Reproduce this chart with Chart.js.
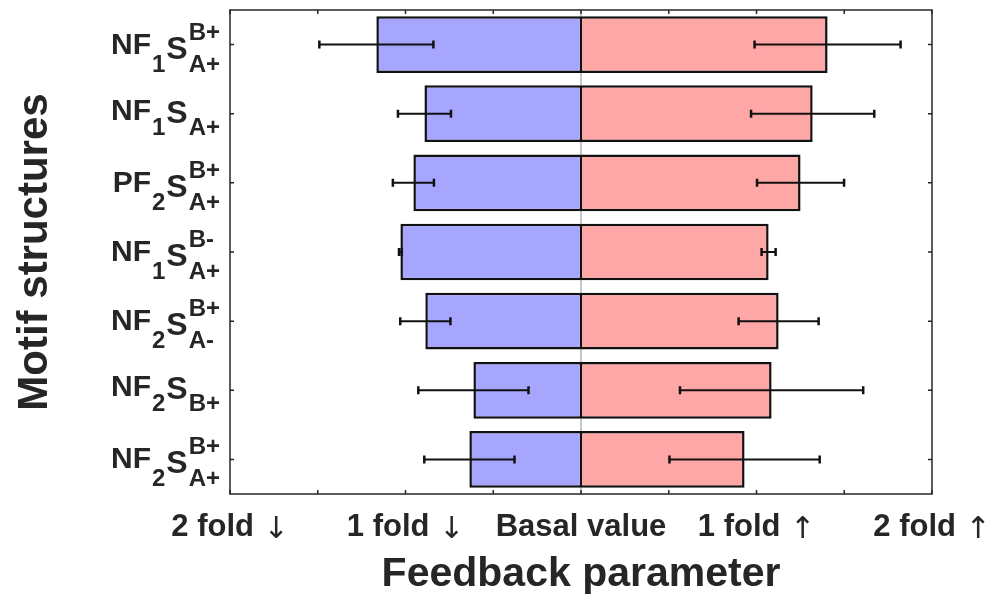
<!DOCTYPE html>
<html lang="en">
<head>
  <meta charset="UTF-8" />
  <title>Feedback parameter by motif structure</title>
  <script src="https://cdn.jsdelivr.net/npm/chart.js"></script>
  <style>
    html, body { margin: 0; padding: 0; background: #fff; }
    canvas { display: block; }
  </style>
</head>
<body>
  <canvas id="grafico" width="990" height="594"></canvas>

  <script>
    // motif labels, split in pieces: head + index, S, superscript, subscript
    const motifHead  = ['NF', 'NF', 'PF', 'NF', 'NF', 'NF', 'NF'];
    const motifIndex = ['1', '1', '2', '1', '2', '2', '2'];
    const motifSup   = ['B+', '', 'B+', 'B-', 'B+', '', 'B+'];
    const motifSub   = ['A+', 'A+', 'A+', 'A+', 'A-', 'B+', 'A+'];

    // fold change (down = blue, up = red) and error half-widths
    const downValues = [-1.166, -0.892, -0.955, -1.029, -0.887, -0.613, -0.636];
    const downErrors = [0.325, 0.151, 0.117, 0.008, 0.143, 0.314, 0.257];
    const upValues   = [1.405, 1.320, 1.251, 1.069, 1.126, 1.086, 0.932];
    const upErrors   = [0.416, 0.351, 0.248, 0.040, 0.228, 0.522, 0.428];

    const xTickValues = [-2, -1, 0, 1, 2];
    const xTickLabels = ['2 fold', '1 fold', 'Basal value', '1 fold', '2 fold'];
    const xTickArrows = ['↓', '↓', '', '↑', '↑'];

    const ink = '#262626';
    const bold = px => `bold ${px}px "Liberation Sans", Arial, sans-serif`;

    const decor = {
      id: 'decor',
      beforeDatasetsDraw(chart) {
        const { ctx, chartArea: a, scales: { x } } = chart;
        const x0 = x.getPixelForValue(0);
        ctx.save();
        ctx.strokeStyle = '#b4b4b4';
        ctx.lineWidth = 1.5;
        ctx.beginPath();
        ctx.moveTo(x0, a.top);
        ctx.lineTo(x0, a.bottom);
        ctx.stroke();
        ctx.restore();
      },
      afterDatasetsDraw(chart) {
        const { ctx, chartArea: a, scales: { x, y } } = chart;
        const sets = [[downValues, downErrors], [upValues, upErrors]];

        ctx.save();
        ctx.strokeStyle = '#111';
        sets.forEach(([vals, errs], i) => {
          chart.getDatasetMeta(i).data.forEach((bar, j) => {
            const yy = bar.y;
            const xl = x.getPixelForValue(vals[j] - errs[j]);
            const xr = x.getPixelForValue(vals[j] + errs[j]);
            ctx.lineWidth = 2;
            ctx.beginPath();
            ctx.moveTo(xl, yy); ctx.lineTo(xr, yy);
            ctx.stroke();
            ctx.lineWidth = 2.5;
            ctx.beginPath();
            ctx.moveTo(xl, yy - 4); ctx.lineTo(xl, yy + 4);
            ctx.moveTo(xr, yy - 4); ctx.lineTo(xr, yy + 4);
            ctx.stroke();
          });
        });

        // box and inward ticks
        ctx.strokeStyle = ink;
        ctx.lineWidth = 1.5;
        ctx.strokeRect(a.left, a.top, a.width, a.height);
        ctx.beginPath();
        for (let v = x.min; v <= x.max + 1e-9; v += 0.5) {
          const px = x.getPixelForValue(v);
          ctx.moveTo(px, a.top); ctx.lineTo(px, a.top + 4);
          ctx.moveTo(px, a.bottom); ctx.lineTo(px, a.bottom - 4);
        }
        motifHead.forEach((_, j) => {
          const py = y.getPixelForValue(j);
          ctx.moveTo(a.left, py); ctx.lineTo(a.left + 4, py);
          ctx.moveTo(a.right, py); ctx.lineTo(a.right - 4, py);
        });
        ctx.stroke();
        ctx.restore();
      },
      afterDraw(chart) {
        const { ctx, chartArea: a, scales: { x, y } } = chart;
        ctx.save();
        ctx.fillStyle = ink;
        ctx.textBaseline = 'alphabetic';
        ctx.textAlign = 'left';

        // x tick labels, arrow in a lighter weight
        const arrowFont = '30px "DejaVu Sans", sans-serif';
        xTickValues.forEach((v, i) => {
          ctx.font = bold(31);
          const tw = ctx.measureText(xTickLabels[i]).width;
          const arrow = xTickArrows[i] ? ' ' + xTickArrows[i] : '';
          ctx.font = arrowFont;
          const aw = arrow ? ctx.measureText(arrow).width : 0;
          const left = x.getPixelForValue(v) - (tw + aw) / 2;
          ctx.font = bold(31);
          ctx.fillText(xTickLabels[i], left, 536);
          if (arrow) {
            ctx.font = arrowFont;
            ctx.fillText(arrow, left + tw, 538);
          }
        });

        // motif labels with sub/superscripts, right edge near 220
        motifHead.forEach((head, j) => {
          const cy = y.getPixelForValue(j);
          const hasSup = motifSup[j] !== '';
          const dy = hasSup ? [9, 27, 14, -5] : [6, 21, 9, 0];
          ctx.font = bold(30);
          const hw = ctx.measureText(head).width;
          ctx.font = bold(24);
          const iw = ctx.measureText(motifIndex[j]).width;
          const sw = Math.max(ctx.measureText(motifSup[j]).width, ctx.measureText(motifSub[j]).width);
          ctx.font = bold(32);
          const ssw = ctx.measureText('S').width;
          let px = 220 - (hw + iw + ssw + sw + 3);

          ctx.font = bold(30);
          ctx.fillText(head, px, cy + dy[0]);
          px += hw + 1;
          ctx.font = bold(24);
          ctx.fillText(motifIndex[j], px, cy + dy[1]);
          px += iw + 1;
          ctx.font = bold(32);
          ctx.fillText('S', px, cy + dy[2]);
          px += ssw + 1;
          ctx.font = bold(24);
          if (hasSup) ctx.fillText(motifSup[j], px, cy + dy[3]);
          ctx.fillText(motifSub[j], px, cy + dy[1]);
        });

        // axis titles
        ctx.textAlign = 'center';
        ctx.font = bold(41);
        ctx.fillText('Feedback parameter', (a.left + a.right) / 2, 586);
        ctx.translate(47, (a.top + a.bottom) / 2);
        ctx.rotate(-Math.PI / 2);
        ctx.font = bold(42);
        ctx.fillText('Motif structures', 0, 0);
        ctx.restore();
      }
    };

    new Chart(document.getElementById('grafico').getContext('2d'), {
      type: 'bar',
      data: {
        labels: motifHead.map((h, j) => h + motifIndex[j] + 'S' + motifSup[j] + motifSub[j]),
        datasets: [
          {
            label: 'Down',
            data: downValues,
            backgroundColor: '#a6a6ff',
            borderColor: '#111',
            borderWidth: { top: 2.5, bottom: 2.5, left: 2.5, right: 1.25 },
            borderSkipped: false,
            barPercentage: 0.82,
            categoryPercentage: 1
          },
          {
            label: 'Up',
            data: upValues,
            backgroundColor: '#ffa6a6',
            borderColor: '#111',
            borderWidth: { top: 2.5, bottom: 2.5, left: 1.25, right: 2.5 },
            borderSkipped: false,
            barPercentage: 0.82,
            categoryPercentage: 1
          }
        ]
      },
      options: {
        indexAxis: 'y',
        responsive: false,
        animation: false,
        layout: { padding: { left: 230, right: 58, top: 10, bottom: 100 } },
        plugins: { legend: { display: false }, tooltip: { enabled: false } },
        scales: {
          x: { type: 'linear', min: -2, max: 2, stacked: true, display: false },
          y: { stacked: true, display: false, offset: true }
        }
      },
      plugins: [decor]
    });
  </script>
</body>
</html>
